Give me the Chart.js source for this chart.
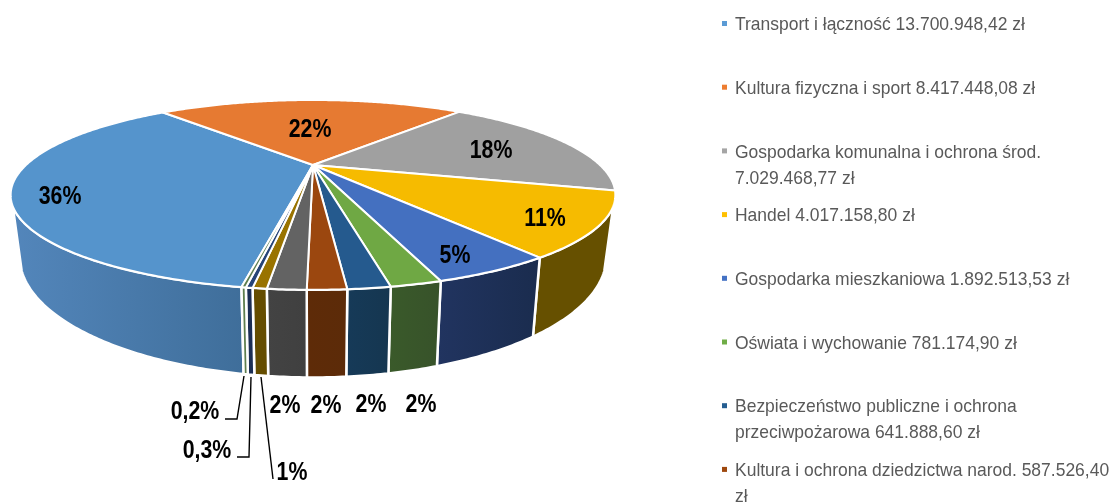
<!DOCTYPE html>
<html>
<head>
<meta charset="utf-8">
<script src="https://cdn.jsdelivr.net/npm/chart.js@4"></script>
<style>
  html, body { margin: 0; padding: 0; background: #ffffff; overflow: hidden; }
  canvas { display: block; }
</style>
</head>
<body>
<canvas id="budgetPie" width="1112" height="504"></canvas>
<script>
const categories = [
  "Transport i łączność",
  "Kultura fizyczna i sport",
  "Gospodarka komunalna i ochrona środ.",
  "Handel",
  "Gospodarka mieszkaniowa",
  "Oświata i wychowanie",
  "Bezpieczeństwo publiczne i ochrona przeciwpożarowa",
  "Kultura i ochrona dziedzictwa narod.",
  "",
  "",
  "",
  "",
];
// first eight are printed in the legend, last four are estimated from the picture
const values = [
  13700948.42, 8417448.08, 7029468.77, 4017158.8, 1892513.53, 781174.9,
  641888.6, 587526.4, 580000, 210000, 100000, 65000,
];
const amounts = [
  "13.700.948,42 zł",
  "8.417.448,08 zł",
  "7.029.468,77 zł",
  "4.017.158,80 zł",
  "1.892.513,53 zł",
  "781.174,90 zł",
  "641.888,60 zł",
  "587.526,40 zł",
];
const percentLabels = ["36%", "22%", "18%", "11%", "5%", "2%", "2%", "2%", "2%", "1%", "0,3%", "0,2%"];

const topColors = ["#5594cc", "#e67a32", "#a0a0a0", "#f6bb00", "#4470c0", "#6fa844", "#255a8e", "#9b470f", "#636363", "#997300", "#264478", "#5f7f4f"];
const legendColors = ["#5b9bd5", "#ed7d31", "#a5a5a5", "#ffc000", "#4472c4", "#70ad47", "#255e91", "#9e480e"];
const wallLeft = ["#5386bb", "#8a4a1e", "#666666", "#665000", "#213460", "#3a5a2a", "#163a58", "#5e2b08", "#434343", "#654d00", "#1b2e55", "#5f7f4f"];
const wallRight = ["#3f6e9a", "#8a4a1e", "#666666", "#665000", "#1a2c4e", "#37522a", "#153650", "#5c2b09", "#404040", "#654d00", "#1b2e55", "#5f7f4f"];

// label centres, same order as percentLabels
const labelSpots = [
  [60, 196.5], [310, 129.5], [491, 150.5], [545, 218.5], [455, 255.5], [421, 404.5],
  [371, 404.5], [326, 405.5], [285, 405.5], [292, 472.5], [207, 450.5], [195, 412],
];
const leaderLines = [
  [[244, 376], [237, 419], [225, 419]],
  [[251, 377], [249, 457], [237, 457]],
  [[261, 377], [273, 479]],
];

// perspective of the tilted disc
const view = { xScale: 1.739, yScale: 0.518, tilt: 0.315, wallFrom: 114.5 * Math.PI / 180, baseDrop: 54, baseX: 0.97, baseY: 1.27 };

function rimPoint(arc, theta, base) {
  const w = 1 + view.tilt * Math.cos(theta);
  const dx = arc.outerRadius * view.xScale * Math.sin(theta) / w;
  const dy = -arc.outerRadius * view.yScale * Math.cos(theta) / w;
  if (base) return [arc.x + dx * view.baseX, arc.y + view.baseDrop + dy * view.baseY];
  return [arc.x + dx, arc.y + dy];
}

function arcSteps(from, to) {
  const out = [];
  const n = Math.max(2, Math.ceil((to - from) / 0.01));
  for (let i = 0; i <= n; i++) out.push(from + (to - from) * i / n);
  return out;
}

// no narrow font installed, so squeeze the sans by hand
function narrowText(ctx, txt, x, y, squeeze) {
  ctx.save();
  ctx.translate(x, y);
  ctx.scale(squeeze, 1);
  ctx.fillText(txt, 0, 0);
  ctx.restore();
}

const pie3d = {
  id: "pie3d",
  beforeDatasetsDraw(chart) {
    const ctx = chart.ctx;
    const arcs = chart.getDatasetMeta(0).data;
    const full = 2 * Math.PI;
    ctx.save();
    ctx.lineJoin = "round";

    // side wall first
    const lo = view.wallFrom;
    const hi = full - view.wallFrom;
    arcs.forEach((arc, i) => {
      let a = arc.startAngle + Math.PI / 2;
      let b = arc.endAngle + Math.PI / 2;
      while (a >= full) { a -= full; b -= full; }
      const from = Math.max(a, lo);
      const to = Math.min(b, hi);
      if (to <= from) return;
      const steps = arcSteps(from, to);
      const upper = steps.map((t) => rimPoint(arc, t, false));
      const lower = steps.map((t) => rimPoint(arc, t, true)).reverse();
      const pts = upper.concat(lower);
      const xs = pts.map((p) => p[0]);
      const g = ctx.createLinearGradient(Math.min(...xs), 0, Math.max(...xs), 0);
      g.addColorStop(0, wallLeft[i]);
      g.addColorStop(1, wallRight[i]);
      ctx.beginPath();
      pts.forEach((p, k) => (k ? ctx.lineTo(p[0], p[1]) : ctx.moveTo(p[0], p[1])));
      ctx.closePath();
      ctx.fillStyle = g;
      ctx.fill();
      ctx.strokeStyle = "#ffffff";
      ctx.lineWidth = 2.5;
      ctx.stroke();
    });

    // top faces
    arcs.forEach((arc, i) => {
      const steps = arcSteps(arc.startAngle + Math.PI / 2, arc.endAngle + Math.PI / 2);
      ctx.beginPath();
      ctx.moveTo(arc.x, arc.y);
      steps.forEach((t) => {
        const p = rimPoint(arc, t, false);
        ctx.lineTo(p[0], p[1]);
      });
      ctx.closePath();
      ctx.fillStyle = arc.options.backgroundColor;
      ctx.fill();
      ctx.strokeStyle = "#ffffff";
      ctx.lineWidth = 2;
      ctx.stroke();
    });
    ctx.restore();
    return false;
  },
  afterDraw(chart) {
    const ctx = chart.ctx;
    ctx.save();

    ctx.strokeStyle = "#000000";
    ctx.lineWidth = 1.4;
    leaderLines.forEach((line) => {
      ctx.beginPath();
      line.forEach((p, k) => (k ? ctx.lineTo(p[0], p[1]) : ctx.moveTo(p[0], p[1])));
      ctx.stroke();
    });

    ctx.fillStyle = "#000000";
    ctx.font = 'bold 26px "Liberation Sans", sans-serif';
    ctx.textAlign = "center";
    ctx.textBaseline = "middle";
    percentLabels.forEach((txt, i) => {
      narrowText(ctx, txt, labelSpots[i][0], labelSpots[i][1], 0.82);
    });

    // legend: excel wraps long entries, rows keep an even step
    const squeeze = 0.92;
    ctx.font = '19px "Liberation Sans", sans-serif';
    ctx.textAlign = "left";
    amounts.forEach((amount, i) => {
      const y = 25 + i * 63.7;
      ctx.fillStyle = legendColors[i];
      ctx.fillRect(722, y - 4, 5, 5);
      ctx.fillStyle = "#595959";
      let line = "";
      let row = 0;
      (categories[i] + " " + amount).split(" ").forEach((word) => {
        const next = line ? line + " " + word : word;
        if (ctx.measureText(next).width * squeeze > 380) {
          narrowText(ctx, line, 735, y + row * 26, squeeze);
          row++;
          line = word;
        } else {
          line = next;
        }
      });
      narrowText(ctx, line, 735, y + row * 26, squeeze);
    });
    ctx.restore();
  },
};

new Chart(document.getElementById("budgetPie"), {
  type: "pie",
  data: {
    labels: categories,
    datasets: [
      {
        data: values,
        backgroundColor: topColors,
        borderWidth: 0,
      },
    ],
  },
  options: {
    responsive: false,
    animation: false,
    rotation: 189.9,
    layout: { padding: { right: 486, bottom: 174 } },
    plugins: {
      legend: { display: false },
      tooltip: { enabled: false },
      title: { display: false },
    },
  },
  plugins: [pie3d],
});
</script>
</body>
</html>
